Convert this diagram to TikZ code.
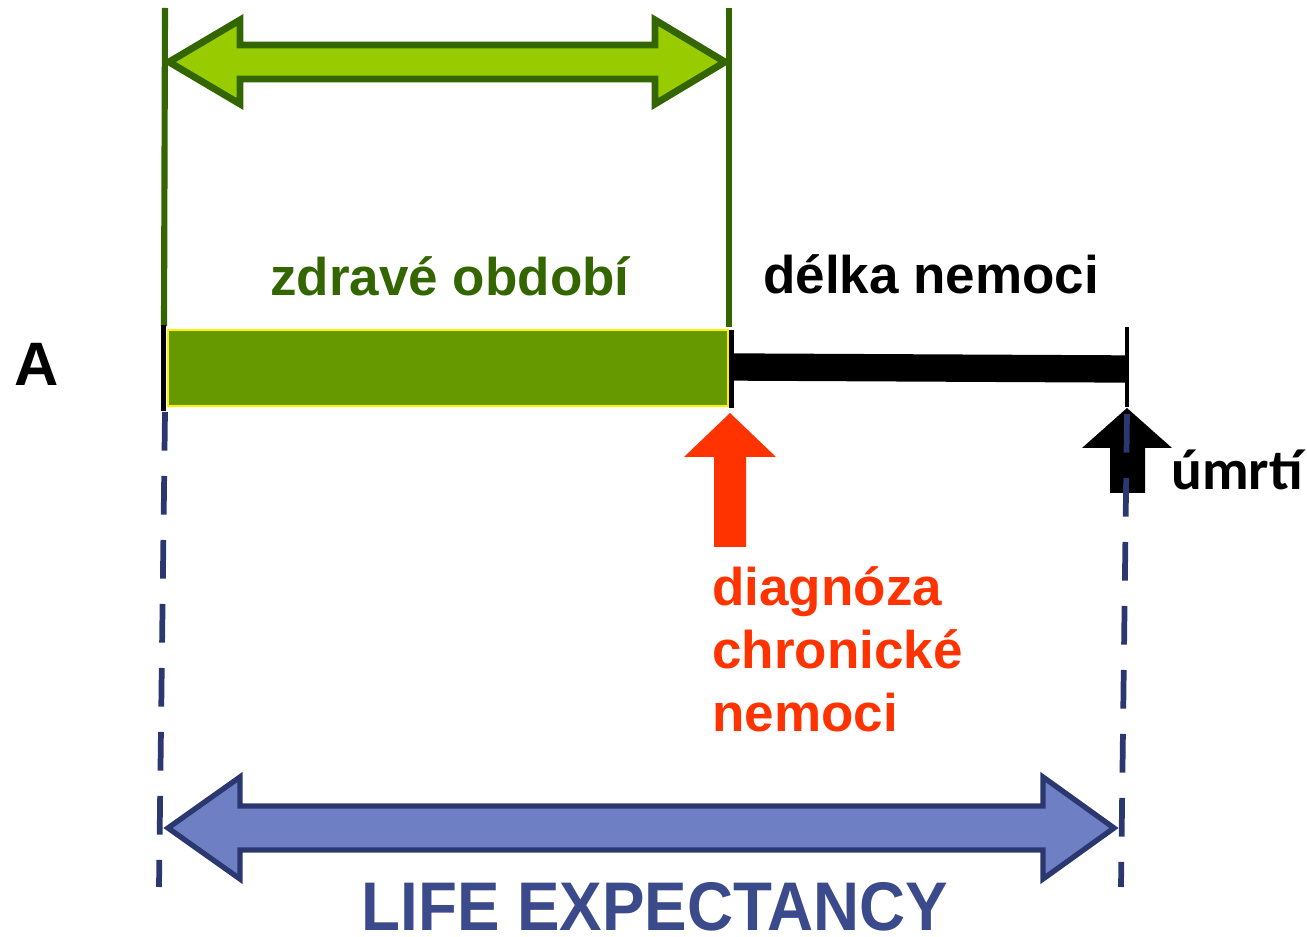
\documentclass[tikz,border=0pt]{standalone}
\usepackage{fontspec}
\setmainfont{Liberation Sans}
\newfontfamily\calibfont{Carlito}
\definecolor{dkgreen}{HTML}{336600}
\definecolor{ltgreen}{HTML}{99CC00}
\definecolor{bargreen}{HTML}{669900}
\definecolor{redor}{HTML}{FF3300}
\definecolor{navy}{HTML}{2B3870}
\definecolor{bluefill}{HTML}{6F7FC4}
\definecolor{textblue}{HTML}{3A4A8A}
\newcommand\midtxt{\fontsize{39.75}{47.25}\selectfont\bfseries}
\tikzset{
  gline/.style={draw=dkgreen, line width=4.6pt},
  tickline/.style={draw=black, line width=3.75pt},
  lbl/.style={font=\midtxt, inner sep=0pt, anchor=base west},
  bluedash/.style={draw=navy, line width=4.3pt, dash pattern=on 29pt off 19pt},
  garrow/.style={fill=ltgreen, draw=dkgreen, line width=5.2pt, line join=miter, miter limit=10},
  barrow/.style={fill=bluefill, draw=navy, line width=4pt, line join=miter, miter limit=10},
}
\begin{document}
\begin{tikzpicture}[x=0.75pt,y=-0.75pt]
\useasboundingbox (0,0) rectangle (1307,937);

% key coordinates
\coordinate (gLtop) at (165,8);
\coordinate (gLbot) at (164,326);
\coordinate (gRtop) at (729,8);
\coordinate (gRbot) at (729,327);

% green double arrow
\draw[garrow] (169,62) -- (240,20) -- (240,45) -- (655,45) -- (655,20) -- (725,62)
   -- (655,104) -- (655,79) -- (240,79) -- (240,104) -- cycle;

% green vertical lines
\draw[gline] (gLtop) -- (gLbot);
\draw[gline] (gRtop) -- (gRbot);

% green bar
\node[draw=yellow, line width=1.2pt, fill=bargreen, minimum width=560*0.75pt, minimum height=76*0.75pt, inner sep=0pt, anchor=north west] (bar) at (167,329) {};

% black ticks
\draw[tickline] (163,325) -- (163,411);
\draw[tickline] (731,330) -- (731,408);
\draw[draw=black, line width=2.4pt] (1127,327) -- (1127,407);

% black bar
\draw[draw=black, line width=20.5pt] (731,367) -- (1127,369);

% red arrow
\coordinate (redtip) at (730,413);
\fill[redor] (redtip) -- (776,457) -- (746,457) -- (746,547) -- (714,547) -- (714,457) -- (684,457) -- cycle;

% black arrow
\coordinate (blktip) at (1127,408);
\fill[black] (blktip) -- (1172,448) -- (1145,448) -- (1145,493) -- (1110,493) -- (1110,448) -- (1082,448) -- cycle;

% blue dashed lines
\coordinate (dLtop) at (165,412);
\coordinate (dLbot) at (159,887);
\coordinate (dRtop) at (1127,414);
\coordinate (dRbot) at (1121,887);
\draw[bluedash] (dLtop) -- (dLbot);
\draw[bluedash] (dRtop) -- (dRbot);

% blue double arrow
\draw[barrow] (168,828) -- (240,777) -- (240,806) -- (1043,806) -- (1043,777) -- (1114,828)
   -- (1043,879) -- (1043,850) -- (240,850) -- (240,879) -- cycle;

% texts
\node[lbl, text=dkgreen] (zdrave) at (270,296) {zdravé období};
\node[lbl, text=black] (delka) at (763,294) {délka nemoci};
\node[inner sep=0pt, anchor=base, font=\fontsize{46}{52}\selectfont\bfseries] (A) at (37,386) {A};
\node[inner sep=0pt, anchor=base west, font=\fontsize{43}{50}\selectfont\calibfont\bfseries] (umrti) at (1171,490) {úmrtí};
\node[lbl, text=redor] (diag1) at (712,605) {diagnóza};
\node[lbl, text=redor] (diag2) at (712,668) {chronické};
\node[lbl, text=redor] (diag3) at (712,731) {nemoci};
\node[inner sep=0pt, anchor=base, text=textblue, font=\fontsize{47.8}{55}\selectfont\bfseries] (life) at (655,930) {\scalebox{1}[1.08]{LIFE EXPECTANCY}};
\end{tikzpicture}
\end{document}
